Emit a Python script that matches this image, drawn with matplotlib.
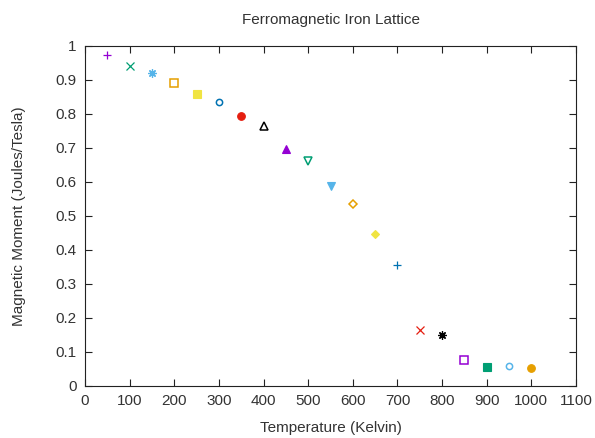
import matplotlib.pyplot as plt

plt.rcParams['font.family'] = ['Liberation Sans', 'DejaVu Sans']

# Data
temps = [50, 100, 150, 200, 250, 300, 350, 400, 450, 500,
         550, 600, 650, 700, 750, 800, 850, 900, 950, 1000]
moment = [0.974, 0.942, 0.920, 0.890, 0.859, 0.834, 0.795, 0.764, 0.697, 0.662,
          0.589, 0.535, 0.447, 0.356, 0.164, 0.149, 0.077, 0.055, 0.058, 0.052]

# gnuplot-like colour and point type cycles
colors = ['#9400d3', '#009e73', '#56b4e9', '#e69f00',
          '#f0e442', '#0072b2', '#e51e10', '#000000']
markers = ['+', 'x', (8, 2, 0), 's', 's', 'o', 'o', '^', '^', 'v',
           'v', 'D', 'D', '+', 'x', (8, 2, 0), 's', 's', 'o', 'o']
filled = [True, True, True, False, True, False, True, False, True, False,
          True, False, True, True, True, True, False, True, False, True]

fig = plt.figure(figsize=(5.95, 4.38), dpi=100)
ax = fig.add_axes([0.143, 0.119, 0.825, 0.776])

for i, (t, m) in enumerate(zip(temps, moment)):
    c = colors[i % len(colors)]
    mk = markers[i]
    if mk in ('+', 'x') or isinstance(mk, tuple):
        ax.plot(t, m, linestyle='none', marker=mk, color=c, markersize=6,
                markeredgewidth=0.9)
    elif filled[i]:
        size = 4 if mk == 'D' else 5.5
        ax.plot(t, m, linestyle='none', marker=mk, color=c, markersize=size,
                markeredgewidth=0.8)
    else:
        size = 4 if mk == 'D' else (4.5 if mk == 'o' else 5.5)
        ax.plot(t, m, linestyle='none', marker=mk, markerfacecolor='none',
                markeredgecolor=c, markersize=size, markeredgewidth=1.1)

ax.set_xlim(0, 1100)
ax.set_ylim(0, 1)
ax.set_xticks(range(0, 1101, 100))
ax.set_yticks([i / 10 for i in range(11)])
ax.set_yticklabels(['0', '0.1', '0.2', '0.3', '0.4', '0.5', '0.6', '0.7', '0.8', '0.9', '1'])
ax.tick_params(direction='in', top=True, right=True, labelsize=11, length=5,
               colors='#222222', labelcolor='#333333', pad=6)
for s in ax.spines.values():
    s.set_color('#222222')
ax.set_xlabel('Temperature (Kelvin)', fontsize=11, color='#333333', labelpad=9)
ax.set_ylabel('Magnetic Moment (Joules/Tesla)', fontsize=11, color='#333333', labelpad=21)
ax.set_title('Ferromagnetic Iron Lattice', fontsize=11, color='#333333', pad=16)

plt.savefig('out.png', dpi=100)
